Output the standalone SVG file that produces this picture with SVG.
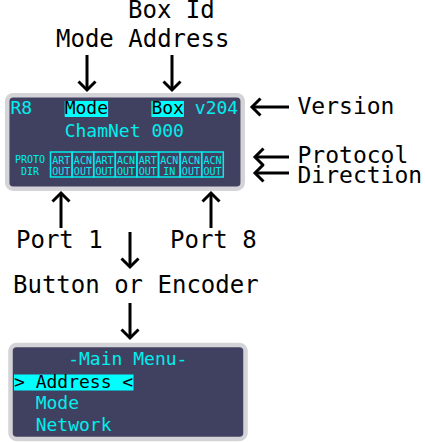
<svg xmlns="http://www.w3.org/2000/svg" width="425" height="442" viewBox="0 0 425 442">
<style>
.lbl{font-family:"DejaVu Sans Mono","Liberation Mono",monospace;font-size:24px;fill:#000}
.rl{font-size:23px}
.lcd{font-family:"DejaVu Sans Mono","Liberation Mono",monospace;font-size:18px;fill:#00eeee}
.sm{font-family:"DejaVu Sans Mono","Liberation Mono",monospace;font-size:10px;fill:#00eeee;text-anchor:middle}
.inv{fill:#000}
.hl{fill:#00ffff}
.panel{fill:#404060;stroke:#d4d4d8;stroke-width:4.5}
.cell{fill:none;stroke:#00eeee;stroke-width:1.5}
.arr{stroke:#000;stroke-width:3;fill:none;marker-end:url(#head)}
</style>
<defs>
<marker id="head" markerUnits="userSpaceOnUse" markerWidth="24" markerHeight="24" refX="17" refY="12" orient="auto" viewBox="0 0 24 24">
<path d="M8.5,3.5 L17,12 L8.5,20.5" fill="none" stroke="#000" stroke-width="3"/>
</marker>
</defs>
<rect width="425" height="442" fill="#fff"/>

<g id="status-display">
<rect class="panel" x="7.2" y="95.2" width="235.5" height="93.5" rx="6"/>
<text class="lcd" x="10.5" y="114">R8</text>
<rect class="hl" x="64.7" y="101" width="43.4" height="16"/>
<text class="lcd inv" x="64.7" y="114">Mode</text>
<rect class="hl" x="151.4" y="101" width="32.5" height="16"/>
<text class="lcd inv" x="151.4" y="114">Box</text>
<text class="lcd" x="194.8" y="114">v204</text>
<text class="lcd" x="64.7" y="137">ChamNet 000</text>
<text class="sm" x="30" y="163">PROTO</text>
<text class="sm" x="30" y="174.5">DIR</text>
<g id="proto-cells">
<rect class="cell" x="50.5" y="152" width="21.6" height="25"/>
<rect class="cell" x="72.1" y="152" width="21.6" height="25"/>
<rect class="cell" x="93.7" y="152" width="21.6" height="25"/>
<rect class="cell" x="115.3" y="152" width="21.6" height="25"/>
<rect class="cell" x="136.9" y="152" width="21.6" height="25"/>
<rect class="cell" x="158.5" y="152" width="21.6" height="25"/>
<rect class="cell" x="180.1" y="152" width="21.6" height="25"/>
<rect class="cell" x="201.7" y="152" width="21.6" height="25"/>
<text class="sm" x="61.3" y="163.5">ART</text><text class="sm" x="61.3" y="175">OUT</text>
<text class="sm" x="82.9" y="163.5">ACN</text><text class="sm" x="82.9" y="175">OUT</text>
<text class="sm" x="104.5" y="163.5">ART</text><text class="sm" x="104.5" y="175">OUT</text>
<text class="sm" x="126.1" y="163.5">ACN</text><text class="sm" x="126.1" y="175">OUT</text>
<text class="sm" x="147.7" y="163.5">ART</text><text class="sm" x="147.7" y="175">OUT</text>
<text class="sm" x="169.3" y="163.5">ACN</text><text class="sm" x="169.3" y="175">IN</text>
<text class="sm" x="190.9" y="163.5">ACN</text><text class="sm" x="190.9" y="175">OUT</text>
<text class="sm" x="212.5" y="163.5">ACN</text><text class="sm" x="212.5" y="175">OUT</text>
</g>
</g>

<g id="menu-display">
<rect class="panel" x="10.5" y="345" width="235" height="94" rx="6"/>
<text class="lcd" x="68.2" y="365">-Main Menu-</text>
<rect class="hl" x="14" y="374.5" width="119.5" height="16"/>
<text class="lcd inv" x="14" y="387.5">&gt; Address &lt;</text>
<text class="lcd" x="35.7" y="409">Mode</text>
<text class="lcd" x="35.7" y="430.5">Network</text>
</g>

<g id="label-boxid"><text class="lbl" x="128" y="18">Box Id</text></g>
<g id="label-mode-address"><text class="lbl" x="56" y="47" xml:space="preserve">Mode Address</text></g>
<g id="label-version"><text class="lbl rl" x="297.5" y="113.5">Version</text></g>
<g id="label-protocol"><text class="lbl rl" x="297.5" y="163">Protocol</text></g>
<g id="label-direction"><text class="lbl rl" x="297.5" y="182.5">Direction</text></g>
<g id="label-port1"><text class="lbl" x="16" y="248">Port 1</text></g>
<g id="label-port8"><text class="lbl" x="170" y="248">Port 8</text></g>
<g id="label-button"><text class="lbl" x="13" y="293">Button or Encoder</text></g>

<g id="connectors">
<line class="arr" x1="87" y1="55" x2="87" y2="90"/>
<line class="arr" x1="172" y1="55" x2="172" y2="90"/>
<line class="arr" x1="289" y1="107" x2="252" y2="107"/>
<line class="arr" x1="289" y1="157" x2="255" y2="157"/>
<line class="arr" x1="289" y1="173" x2="255" y2="173"/>
<line class="arr" x1="61" y1="228" x2="61" y2="193"/>
<line class="arr" x1="211" y1="228" x2="211" y2="193"/>
<line class="arr" x1="130" y1="232" x2="130" y2="267"/>
<line class="arr" x1="130" y1="303" x2="130" y2="338"/>
</g>
</svg>
